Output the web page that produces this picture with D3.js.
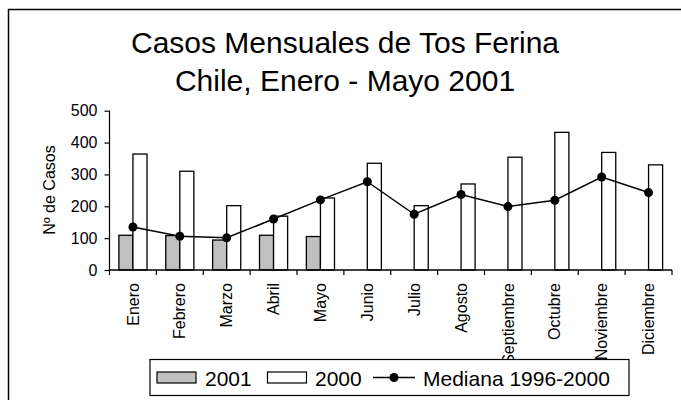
<!DOCTYPE html>
<html><head><meta charset="utf-8">
<script src="https://cdn.jsdelivr.net/npm/d3@7"></script>
<style>
body{margin:0;background:#fff;}
svg{display:block;font-family:"Liberation Sans",Arial,sans-serif;}
</style></head>
<body>
<svg id="c" width="681" height="400"></svg>
<script>
const months = ["Enero","Febrero","Marzo","Abril","Mayo","Junio","Julio","Agosto","Septiembre","Octubre","Noviembre","Diciembre"];
const cases2001 = [109,108,94,109,105,null,null,null,null,null,null,null];
const cases2000 = [364,310,202,169,226,335,202,270,354,432,369,330];
const median9600 = [135,106,101,160,220,277,175,237,199,219,292,243];
const yTicks = [0,100,200,300,400,500];
const titleLines = ["Casos Mensuales de Tos Ferina","Chile, Enero - Mayo 2001"];
const legendLabels = ["2001","2000","Mediana 1996-2000"];

const svg = d3.select("#c");
const L = 109.5, R = 672, T = 110.7, B = 270;

// outer border
svg.append("rect").attr("x",8.5).attr("y",9.5).attr("width",700).attr("height",420)
  .attr("fill","none").attr("stroke","#000").attr("stroke-width",1.5);

// title
svg.append("g").selectAll("text").data(titleLines).join("text")
  .attr("x",345).attr("y",(d,i)=>53+i*38).attr("text-anchor","middle")
  .attr("font-size",30).text(d=>d);

const x = d3.scaleBand().domain(months).range([L,R]).padding(0);
const y = d3.scaleLinear().domain([0,500]).range([B,T]);
const bw = x.bandwidth()*0.3;

// y axis
const yAxis = svg.append("g").attr("transform",`translate(${L},0)`)
  .call(d3.axisLeft(y).tickValues(yTicks).tickSize(5).tickPadding(7).tickFormat(d3.format("d")));
yAxis.select(".domain").attr("d",`M0,${T}V${B}`).attr("stroke-width",1.2);
yAxis.selectAll(".tick line").attr("stroke-width",1.2);
yAxis.selectAll("text").attr("font-size",16).attr("font-family","Liberation Sans, Arial, sans-serif").attr("fill","#000");

svg.append("text").attr("transform","translate(55,190) rotate(-90)")
  .attr("text-anchor","middle").attr("font-size",16).text("Nº de Casos");

// bars 2001
svg.append("g").selectAll("rect").data(months.map((m,i)=>({m,v:cases2001[i]})).filter(d=>d.v!=null))
  .join("rect")
  .attr("x",d=>x(d.m)+x.bandwidth()/2-bw).attr("width",bw)
  .attr("y",d=>y(d.v)).attr("height",d=>B-y(d.v))
  .attr("fill","#c0c0c0").attr("stroke","#000").attr("stroke-width",1.3);

// bars 2000
svg.append("g").selectAll("rect").data(months.map((m,i)=>({m,v:cases2000[i]})))
  .join("rect")
  .attr("x",d=>x(d.m)+x.bandwidth()/2).attr("width",bw)
  .attr("y",d=>y(d.v)).attr("height",d=>B-y(d.v))
  .attr("fill","#fff").attr("stroke","#000").attr("stroke-width",1.3);

// x axis
const xAxisG = svg.append("g").attr("transform",`translate(0,${B})`);
xAxisG.append("line").attr("x1",L).attr("x2",R).attr("stroke","#000").attr("stroke-width",1.3);
xAxisG.selectAll("line.tk").data(months.concat(["_end"])).join("line").attr("class","tk")
  .attr("x1",(d,i)=>i<12?x(d):R).attr("x2",(d,i)=>i<12?x(d):R)
  .attr("y1",0).attr("y2",5).attr("stroke","#000").attr("stroke-width",1.2);
xAxisG.selectAll("text").data(months).join("text")
  .attr("transform",d=>`translate(${x(d)+x.bandwidth()/2},13) rotate(-90)`)
  .attr("text-anchor","end").attr("dy","0.35em").attr("font-size",16).text(d=>d);

// median line
const line = d3.line().x((d,i)=>x(months[i])+x.bandwidth()/2).y(d=>y(d));
svg.append("path").datum(median9600).attr("d",line).attr("fill","none")
  .attr("stroke","#000").attr("stroke-width",1.5);
svg.append("g").selectAll("circle").data(median9600).join("circle")
  .attr("cx",(d,i)=>x(months[i])+x.bandwidth()/2).attr("cy",d=>y(d)).attr("r",4.5).attr("fill","#000");

// legend
const lg = svg.append("g");
lg.append("rect").attr("x",150).attr("y",359.5).attr("width",479).attr("height",36)
  .attr("fill","#fff").attr("stroke","#000").attr("stroke-width",1.2);
lg.append("rect").attr("x",157).attr("y",372).attr("width",39).attr("height",11)
  .attr("fill","#c0c0c0").attr("stroke","#000").attr("stroke-width",1.2);
lg.append("rect").attr("x",267.5).attr("y",372).attr("width",39).attr("height",11)
  .attr("fill","#fff").attr("stroke","#000").attr("stroke-width",1.2);
lg.append("line").attr("x1",373).attr("x2",415).attr("y1",377.5).attr("y2",377.5)
  .attr("stroke","#000").attr("stroke-width",1.5);
lg.append("circle").attr("cx",394).attr("cy",377.5).attr("r",4.5).attr("fill","#000");
const lx = [205,315,423];
lg.selectAll("text").data(legendLabels).join("text")
  .attr("x",(d,i)=>lx[i]).attr("y",386).attr("font-size",21).text(d=>d);
</script>
</body></html>
